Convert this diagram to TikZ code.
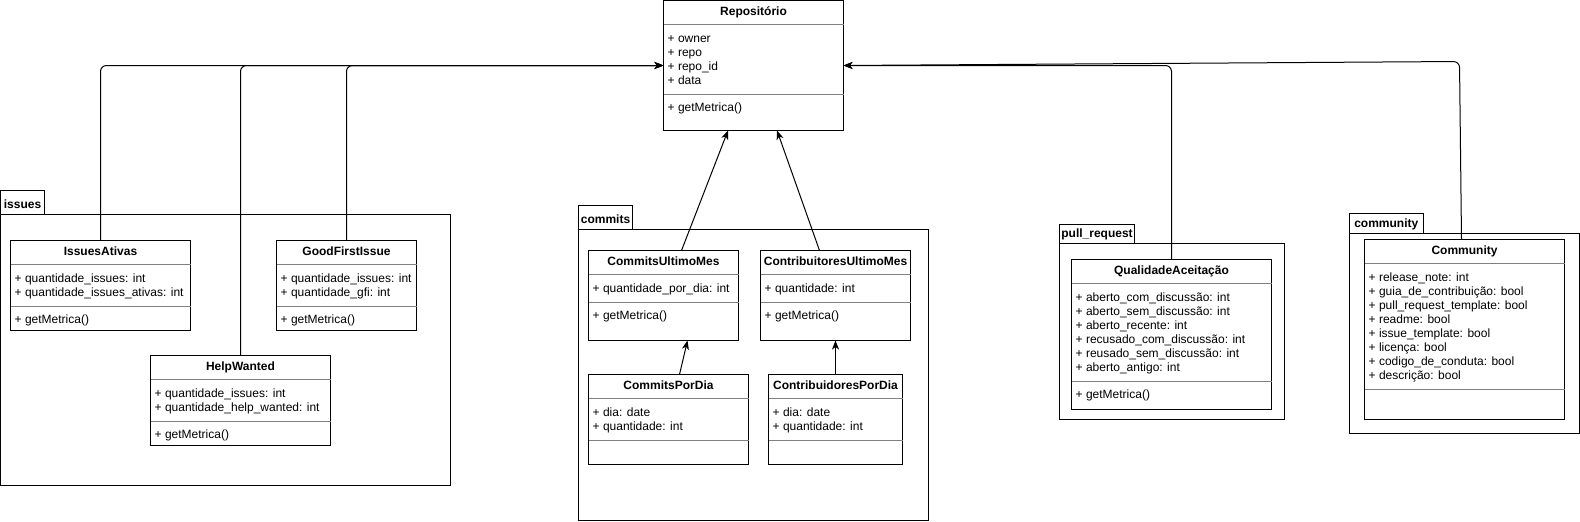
\documentclass[tikz,border=0pt]{standalone}
\usepackage{fontspec}
\setmainfont{Liberation Sans}
\usetikzlibrary{arrows.meta}
\newcommand{\umlfont}{\fontsize{12}{14}\selectfont}
\tikzset{
  clsbox/.style={draw=black, line width=1pt, fill=white, inner sep=0pt, outer sep=0pt},
  clstitle/.style={font=\umlfont\bfseries, anchor=base, inner sep=0pt},
  fld/.style={font=\umlfont, anchor=base west, inner sep=0pt},
  sepline/.style={draw=black!50, line width=1pt},
  pkgbox/.style={draw=black, line width=1pt, inner sep=0pt, outer sep=0pt},
  pkgtab/.style={draw=black, line width=1pt, inner sep=0pt, outer sep=0pt},
  pkglabel/.style={font=\umlfont\bfseries, anchor=base, inner sep=0pt},
  conn/.style={draw=black, line width=1pt, -{Stealth[length=9pt,width=7pt,inset=2.5pt]}},
}
% #1 name, #2 x, #3 y, #4 w, #5 h, #6 title, #7 attributes, #8 method
\newcommand{\ucls}[8]{%
  \node[clsbox, minimum width=#4, minimum height=#5] (#1) at ({#2+#4/2},{#3+#5/2}) {};
  \node[clstitle] (#1-t) at ({#2+#4/2},{#3+15}) {#6};
  \draw[sepline] ({#2},{#3+24}) -- ({#2+#4},{#3+24});
  \gdef\un{0}%
  \foreach \a [count=\i] in {#7} {
    \node[fld] (#1-a\i) at ({#2+4},{#3+41.5+14*(\i-1)}) {\a};
    \xdef\un{\i}
  }
  \draw[sepline] ({#2},{#3+37.5+14*\un}) -- ({#2+#4},{#3+37.5+14*\un});
  \if\relax\detokenize{#8}\relax\else
    \node[fld] (#1-m) at ({#2+4},{#3+54.5+14*\un}) {#8};
  \fi
}
\begin{document}
\begin{tikzpicture}[x=1pt,y=-1pt]
\useasboundingbox (0,0) rectangle (1580,522);

% packages
\node[pkgtab, minimum width=44, minimum height=24] (issuestab) at (22.5,202) {};
\node[pkglabel] (issueslbl) at (22.5,208) {issues};
\node[pkgbox, minimum width=450, minimum height=271] (issuesbody) at (225.5,349.5) {};

\node[pkgtab, minimum width=54, minimum height=24] (commitstab) at (605.5,217) {};
\node[pkglabel] (commitslbl) at (605.5,223) {commits};
\node[pkgbox, minimum width=350, minimum height=291.5] (commitsbody) at (753.5,374.75) {};

\node[pkgtab, minimum width=75, minimum height=19] (prtab) at (1097,233.5) {};
\node[pkglabel] (prlbl) at (1097,237.5) {pull\_request};
\node[pkgbox, minimum width=225, minimum height=176] (prbody) at (1172,331) {};

\node[pkgtab, minimum width=73.5, minimum height=20] (comtab) at (1386.25,223.5) {};
\node[pkglabel] (comlbl) at (1386.25,227.5) {community};
\node[pkgbox, minimum width=230, minimum height=199.5] (combody) at (1464.5,333.25) {};

% classes
\ucls{repo}{663.5}{0.5}{180}{130}{Repositório}{+ owner,+ repo,+ repo\_id,+ data}{+ getMetrica()}

\ucls{ia}{10.5}{240.5}{180}{90}{IssuesAtivas}{+ quantidade\_issues: int,+ quantidade\_issues\_ativas: int}{+ getMetrica()}
\ucls{gfi}{276.5}{240.5}{140}{90}{GoodFirstIssue}{+ quantidade\_issues: int,+ quantidade\_gfi: int}{+ getMetrica()}
\ucls{hw}{150.5}{355.5}{180}{90}{HelpWanted}{+ quantidade\_issues: int,+ quantidade\_help\_wanted: int}{+ getMetrica()}

\ucls{cum}{588.5}{250.5}{150}{90}{CommitsUltimoMes}{+ quantidade\_por\_dia: int}{+ getMetrica()}
\ucls{cbum}{760.5}{250.5}{150}{90}{ContribuitoresUltimoMes}{+ quantidade: int}{+ getMetrica()}
\ucls{cpd}{588.5}{374.5}{160}{90}{CommitsPorDia}{+ dia: date,+ quantidade: int}{}
\ucls{cbpd}{768.5}{374.5}{134}{90}{ContribuidoresPorDia}{+ dia: date,+ quantidade: int}{}

\ucls{qa}{1071.5}{259.5}{200}{150}{QualidadeAceitação}{+ aberto\_com\_discussão: int,+ aberto\_sem\_discussão: int,+ aberto\_recente: int,+ recusado\_com\_discussão: int,+ reusado\_sem\_discussão: int,+ aberto\_antigo: int}{+ getMetrica()}

\ucls{com}{1364.5}{239.5}{200}{180}{Community}{+ release\_note: int,+ guia\_de\_contribuição: bool,+ pull\_request\_template: bool,+ readme: bool,+ issue\_template: bool,+ licença: bool,+ codigo\_de\_conduta: bool,+ descrição: bool}{}

% connectors
\draw[conn, rounded corners=6pt] (ia.north) |- (repo.west);
\draw[conn, rounded corners=6pt] (hw.north) |- (repo.west);
\draw[conn, rounded corners=6pt] (gfi.north) |- (repo.west);

\draw[conn] ([xshift=18pt]cum.north) -- ([xshift=-25.5pt]repo.south);
\draw[conn] ([xshift=-16pt]cbum.north) -- ([xshift=23.5pt]repo.south);
\draw[conn] ([xshift=11pt]cpd.north) -- ([xshift=24pt]cum.south);
\draw[conn] (cbpd.north) -- (cbum.south);

\draw[conn, rounded corners=6pt] (qa.north) |- (repo.east);
\coordinate (comturn) at (1459.5,61.5);
\draw[conn, rounded corners=6pt] ([xshift=-3pt]com.north) -- (comturn) -- (repo.east);
\end{tikzpicture}
\end{document}
